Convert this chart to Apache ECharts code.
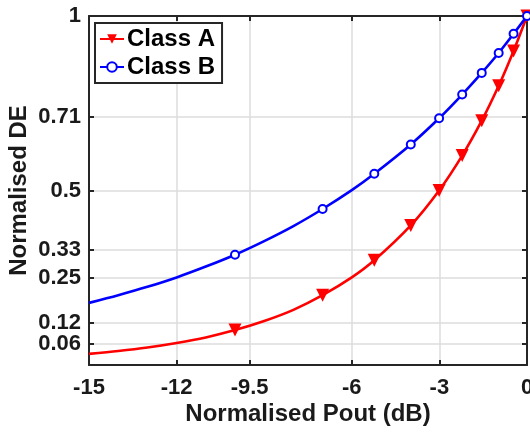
<!DOCTYPE html>
<html>
<head>
<meta charset="utf-8">
<script src="https://cdn.jsdelivr.net/npm/echarts@6/dist/echarts.min.js"></script>
<style>
  html, body { margin: 0; padding: 0; background: #fff; }
  #chart { width: 530px; height: 432px; }
</style>
</head>
<body>
<div id="chart"></div>
<script>
// Normalised output power (dB) at plain curve points (no markers)
const curveDb = [-15, -14, -13, -12, -11, -9, -8, -6];
const classACurve = [0.032, 0.040, 0.050, 0.063, 0.079, 0.126, 0.158, 0.251];
const classBCurve = [0.178, 0.200, 0.224, 0.251, 0.282, 0.355, 0.398, 0.501];

// Points that carry a marker
const markerDb = [-10, -7, -5.23, -3.98, -3.01, -2.22, -1.55, -0.97, -0.46, 0];
const classAMarkers = [0.10, 0.20, 0.30, 0.40, 0.50, 0.60, 0.70, 0.80, 0.90, 1.00];
const classBMarkers = [0.316, 0.447, 0.548, 0.632, 0.707, 0.775, 0.837, 0.894, 0.949, 1.00];

// Axis ticks
const xTicks = [-15, -12, -9.5, -6, -3, 0];
const yTicks = [0.06, 0.12, 0.25, 0.33, 0.5, 0.71, 1];

function buildSeriesData(curve, markers) {
  const pts = [];
  curveDb.forEach((x, i) => pts.push({ value: [x, curve[i]], symbol: 'none' }));
  markerDb.forEach((x, i) => pts.push({ value: [x, markers[i]] }));
  pts.sort((a, b) => a.value[0] - b.value[0]);
  return pts;
}

const FONT = 'Liberation Sans, Arial, Helvetica, sans-serif';
const AXIS_COLOR = '#262626';
const GRID_COLOR = '#dcdcdc';
const TEXT_COLOR = '#1a1a1a';

function tickStyle(values) {
  return { show: true, inside: true, length: 5, customValues: values, lineStyle: { color: AXIS_COLOR, width: 2 } };
}
const axisLineStyle = { show: true, onZero: false, lineStyle: { color: AXIS_COLOR, width: 2 } };

const chart = echarts.init(document.getElementById('chart'), null, { renderer: 'canvas' });

chart.setOption({
  animation: false,
  backgroundColor: '#fff',
  grid: { left: 89, right: 3, top: 16, bottom: 67, containLabel: false, outerBoundsMode: 'none' },
  legend: {
    orient: 'vertical',
    left: 95,
    top: 23,
    padding: [4, 7, 4, 4],
    itemGap: 4,
    itemWidth: 24,
    itemHeight: 12,
    backgroundColor: '#fff',
    borderColor: AXIS_COLOR,
    borderWidth: 2,
    borderRadius: 0,
    textStyle: { fontFamily: FONT, fontWeight: 'bold', fontSize: 24, color: '#000', padding: [0, 0, 0, -2] },
    data: ['Class A', 'Class B']
  },
  xAxis: [
    {
      type: 'value',
      min: -15,
      max: 0,
      position: 'bottom',
      name: 'Normalised Pout (dB)',
      nameLocation: 'middle',
      nameGap: 37,
      nameMoveOverlap: false,
      nameTextStyle: { fontFamily: FONT, fontWeight: 'bold', fontSize: 24, color: TEXT_COLOR },
      axisLine: axisLineStyle,
      axisTick: tickStyle(xTicks),
      axisLabel: {
        customValues: xTicks,
        margin: 12,
        hideOverlap: false,
        showMinLabel: true,
        showMaxLabel: true,
        fontFamily: FONT, fontWeight: 'bold', fontSize: 22, color: TEXT_COLOR,
        formatter: v => String(v)
      },
      splitLine: { show: true, lineStyle: { color: GRID_COLOR, width: 1.5 } }
    },
    {
      type: 'value', min: -15, max: 0, position: 'top',
      axisLine: axisLineStyle,
      axisTick: tickStyle(xTicks),
      axisLabel: { show: false },
      splitLine: { show: false }
    }
  ],
  yAxis: [
    {
      type: 'value',
      min: 0,
      max: 1,
      position: 'left',
      name: 'Normalised DE',
      nameLocation: 'middle',
      nameGap: 58,
      nameMoveOverlap: false,
      nameTextStyle: { fontFamily: FONT, fontWeight: 'bold', fontSize: 24, color: TEXT_COLOR },
      axisLine: axisLineStyle,
      axisTick: tickStyle(yTicks),
      axisLabel: {
        // the blank label at 0 is dropped as the min label so 0.06 and 0.12 both stay
        customValues: [0].concat(yTicks),
        margin: 8,
        hideOverlap: false,
        showMinLabel: false,
        showMaxLabel: true,
        fontFamily: FONT, fontWeight: 'bold', fontSize: 22, color: TEXT_COLOR,
        formatter: v => (v === 0 ? '' : String(v))
      },
      splitLine: { show: true, lineStyle: { color: GRID_COLOR, width: 1.5 } }
    },
    {
      type: 'value', min: 0, max: 1, position: 'right',
      axisLine: axisLineStyle,
      axisTick: tickStyle(yTicks),
      axisLabel: { show: false },
      splitLine: { show: false }
    }
  ],
  series: [
    {
      name: 'Class A',
      type: 'line',
      data: buildSeriesData(classACurve, classAMarkers),
      smooth: 0.3,
      clip: false,
      symbol: 'triangle',
      symbolRotate: 180,
      symbolSize: 13,
      showAllSymbol: true,
      color: '#ff0000',
      lineStyle: { color: '#ff0000', width: 2.6 },
      itemStyle: { color: '#ff0000' }
    },
    {
      name: 'Class B',
      type: 'line',
      data: buildSeriesData(classBCurve, classBMarkers),
      smooth: 0.3,
      clip: false,
      symbol: 'emptyCircle',
      symbolSize: 8,
      showAllSymbol: true,
      color: '#0000ff',
      lineStyle: { color: '#0000ff', width: 2.6 },
      itemStyle: { color: '#0000ff', borderWidth: 3 }
    }
  ]
});
</script>
</body>
</html>
